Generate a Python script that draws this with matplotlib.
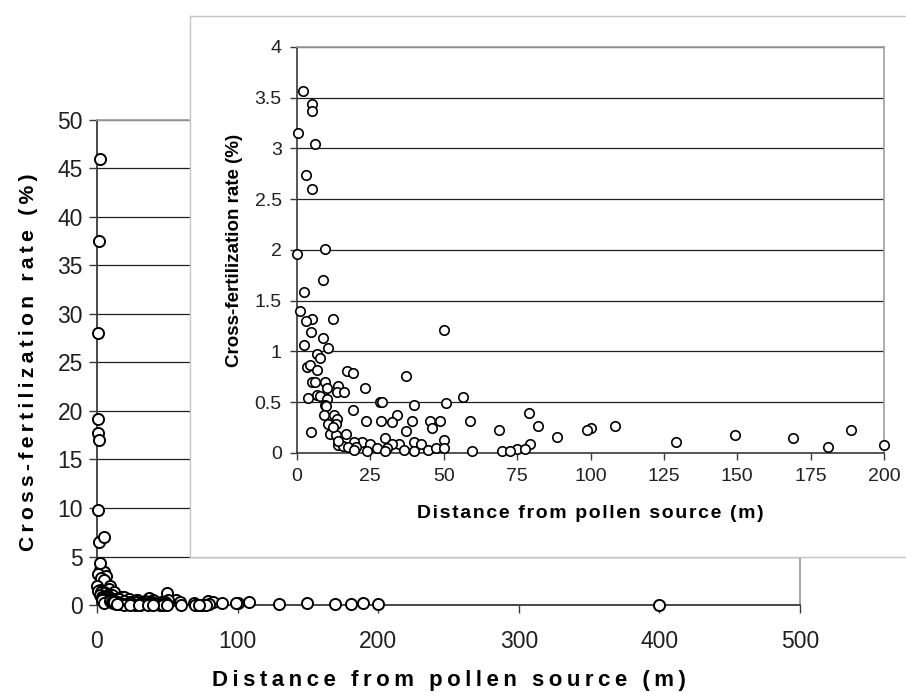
import matplotlib
matplotlib.use("Agg")
import matplotlib.pyplot as plt
import numpy as np

plt.rcParams['font.family'] = ['Liberation Sans', 'DejaVu Sans']

# ── data ──
# near-field and far-field plots (shown in both panels)
distance = [1.9, 5.0, 5.0, 0.5, 6.2, 3.1, 5.0, 9.4, 0.0, 8.7, 2.3, 1.1, 5.0, 12.2,
            3.0, 4.8, 8.9, 2.3, 10.6, 6.9, 7.7, 3.4, 4.4, 6.9, 17.2, 19.2, 37.0,
            5.2, 6.1, 9.4, 13.9, 23.0, 10.2, 13.7, 15.9, 6.7, 7.8, 3.6, 56.4, 10.2,
            28.3, 28.8, 50.0, 50.6, 9.4, 10.0, 39.7, 19.1, 4.8, 9.2, 12.7, 34.1,
            13.7, 23.4, 28.6, 32.3, 39.1, 45.3, 48.7, 59.1, 79.1, 10.6, 13.4, 46.1,
            82.2, 108.4, 100.3, 98.9, 68.7, 188.9, 37.2, 11.4, 16.7, 13.4, 88.6,
            149.1, 169.1, 30.0, 50.0, 129.2, 22.3, 19.4, 34.7, 32.3, 39.7, 42.2,
            79.5, 25.0, 13.9, 15.8, 17.5, 20.2, 181.0, 200.0, 27.3, 30.6, 44.8,
            47.3, 50.0, 75.0, 77.7, 19.5, 23.7, 30.0, 36.4, 40.0, 59.7, 69.8, 72.5,
            12.3, 14.0]
rate = [3.57, 3.44, 3.37, 3.15, 3.04, 2.74, 2.60, 2.01, 1.96, 1.70, 1.59, 1.40, 1.32, 1.32,
        1.30, 1.19, 1.13, 1.06, 1.03, 0.98, 0.94, 0.85, 0.87, 0.82, 0.81, 0.79, 0.76,
        0.70, 0.70, 0.70, 0.66, 0.64, 0.64, 0.60, 0.60, 0.57, 0.56, 0.54, 0.55, 0.53,
        0.50, 0.50, 1.21, 0.49, 0.47, 0.46, 0.47, 0.42, 0.21, 0.37, 0.37, 0.37,
        0.33, 0.32, 0.32, 0.31, 0.32, 0.32, 0.32, 0.32, 0.39, 0.29, 0.29, 0.25,
        0.27, 0.27, 0.25, 0.23, 0.23, 0.23, 0.22, 0.19, 0.19, 0.18, 0.16,
        0.18, 0.15, 0.15, 0.13, 0.11, 0.11, 0.11, 0.09, 0.09, 0.11, 0.09,
        0.09, 0.09, 0.08, 0.07, 0.06, 0.06, 0.06, 0.08, 0.05, 0.05, 0.03,
        0.05, 0.05, 0.04, 0.04, 0.03, 0.02, 0.02, 0.03, 0.02, 0.02, 0.02, 0.02,
        0.26, 0.12]

# high values right at the source, plus the 400 m plot (main panel only)
extra_distance = [2.0, 1.5, 0.5, 1.0, 1.0, 1.5, 0.5, 1.5, 5.0, 2.0, 400.0]
extra_rate = [46.0, 37.5, 28.0, 19.2, 17.7, 17.0, 9.8, 6.5, 7.0, 4.3, 0.0]

main_yticks = list(range(0, 55, 5))
main_xticks = [0, 100, 200, 300, 400, 500]
inset_yticks = [0, 0.5, 1, 1.5, 2, 2.5, 3, 3.5, 4]
inset_xticks = [0, 25, 50, 75, 100, 125, 150, 175, 200]

xlabel = "Distance from pollen source (m)"
ylabel = "Cross-fertilization rate (%)"


def spaced(s, sep="\u2009"):
    # Excel-ish letter spacing
    return sep.join(s)


dark = '#3a3a3a'
light = '#9ca0a6'

fig = plt.figure(figsize=(9.06, 6.92), dpi=100, facecolor='white')

# ── main panel ──
ax = fig.add_axes([0.107, 0.1257, 0.776, 0.701])
all_d = np.array(distance + extra_distance)
all_r = np.array(rate + extra_rate)
ax.plot(all_d, all_r, 'o', ms=8, mfc='white', mec='black', mew=1.4,
        clip_on=False, zorder=3)
ax.set_xlim(0, 500)
ax.set_ylim(0, 50)
ax.set_xticks(main_xticks)
ax.set_yticks(main_yticks)
ax.yaxis.grid(True, color='#202020', lw=0.9)
ax.set_axisbelow(True)
for s in ['left', 'bottom']:
    ax.spines[s].set_color(dark)
    ax.spines[s].set_linewidth(1.3)
for s in ['top', 'right']:
    ax.spines[s].set_color(light)
    ax.spines[s].set_linewidth(1.3)
ax.tick_params(labelsize=16.5, colors=dark, labelcolor='#202020', length=6, width=1.0)
ax.tick_params(axis='x', pad=12)
ax.tick_params(axis='y', pad=4)
ax.set_xlabel(spaced(xlabel), fontsize=16, fontweight='bold', labelpad=12)
ax.set_ylabel(spaced(ylabel), fontsize=15.2, fontweight='bold', labelpad=14)

# ── framed inset box ──
box = fig.add_axes([0.2097, 0.195, 0.85, 0.782], zorder=5)
box.set_xticks([])
box.set_yticks([])
box.set_facecolor('white')
for s in box.spines.values():
    s.set_color('#c4c4c4')
    s.set_linewidth(1.0)

# ── inset panel (0–200 m) ──
d = np.array(distance)
r = np.array(rate)
keep = (d <= 200) & (r <= 4)
ins = fig.add_axes([0.3278, 0.3454, 0.648, 0.5867], zorder=6)
ins.plot(d[keep], r[keep], 'o', ms=6.8, mfc='white', mec='black', mew=1.2,
         clip_on=False, zorder=3)
ins.set_xlim(0, 200)
ins.set_ylim(0, 4)
ins.set_xticks(inset_xticks)
ins.set_yticks(inset_yticks)
ins.set_yticklabels([f"{v:g}" for v in inset_yticks])
ins.yaxis.grid(True, color='#202020', lw=0.9)
ins.set_axisbelow(True)
for s in ['left', 'bottom']:
    ins.spines[s].set_color(dark)
    ins.spines[s].set_linewidth(1.2)
for s in ['top', 'right']:
    ins.spines[s].set_color(light)
    ins.spines[s].set_linewidth(1.2)
ins.tick_params(labelsize=14, colors=dark, labelcolor='#202020', length=5, width=1.0, pad=6)
ins.set_xlabel(spaced(xlabel, "\u200a"), fontsize=14, fontweight='bold', labelpad=14)
ins.set_ylabel(ylabel, fontsize=13.5, fontweight='bold', labelpad=8)

fig.savefig('out.png', dpi=100, facecolor='white')
